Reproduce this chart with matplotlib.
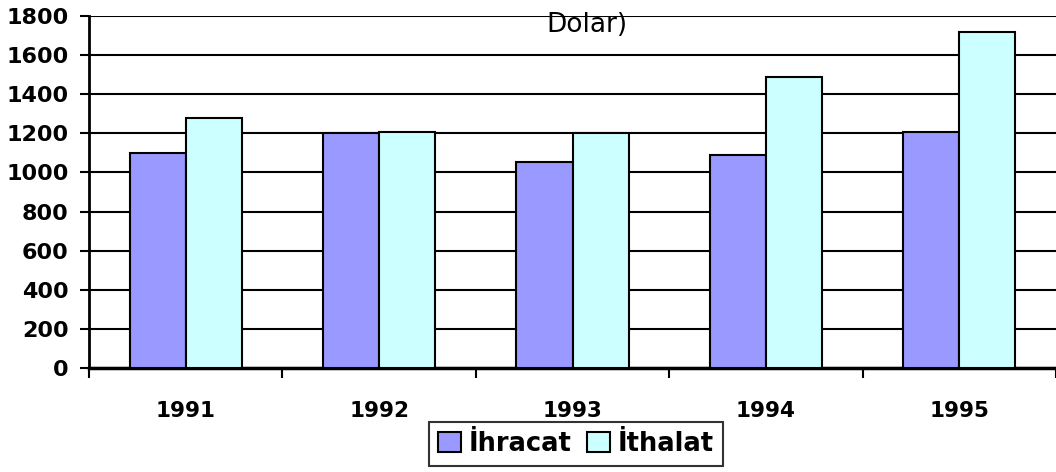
import numpy as np
import matplotlib
matplotlib.use("Agg")
import matplotlib.pyplot as plt
from matplotlib.ticker import FixedLocator

years = ["1991", "1992", "1993", "1994", "1995"]
ihracat = [1097, 1200, 1055, 1089, 1205]
ithalat = [1277, 1208, 1200, 1486, 1720]
yticks = [0, 200, 400, 600, 800, 1000, 1200, 1400, 1600, 1800]

plt.rcParams['font.family'] = ['DejaVu Sans']

fig = plt.figure(figsize=(10.56, 4.72), dpi=100)
ax = fig.add_axes([89/1056, 1-368/472, 1-89/1056, (368-16)/472])

x = np.arange(len(years))
w = 0.29
ax.bar(x - w/2, ihracat, w, color="#9999FF", edgecolor="black", linewidth=1.5,
       label="İhracat", zorder=3)
ax.bar(x + w/2, ithalat, w, color="#CCFFFF", edgecolor="black", linewidth=1.5,
       label="İthalat", zorder=3)

ax.set_xlim(-0.5, len(years) - 0.5)
ax.set_ylim(0, 1800)
ax.set_yticks(yticks)
ax.yaxis.grid(True, color="black", linewidth=1.5, zorder=0)
ax.set_axisbelow(True)

ax.set_xticks(x)
ax.set_xticklabels(years, fontsize=15.5, fontweight="bold")
# ticks sit between the year groups
ax.xaxis.set_minor_locator(FixedLocator(np.arange(-0.5, len(years), 1.0)))
ax.tick_params(axis="x", which="major", length=0, pad=24)
ax.tick_params(axis="x", which="minor", length=7, width=1.5, direction="out")
ax.tick_params(axis="y", length=6.5, width=1.5, pad=8, labelsize=16)
for lab in ax.get_yticklabels():
    lab.set_fontweight("bold")

for s in ["top", "right"]:
    ax.spines[s].set_visible(False)
ax.spines["left"].set_linewidth(2)
ax.spines["bottom"].set_linewidth(2.5)

fig.text(587/1056, 1-25/472, "Dolar)", fontsize=19, ha="center", va="center")

leg = fig.legend(loc="center", bbox_to_anchor=(576/1056, 1-444/472), ncol=2,
                 prop={"size": 18.5, "weight": "bold"}, frameon=True, fancybox=False,
                 edgecolor="black", handlelength=0.9, handleheight=0.8,
                 handletextpad=0.3, columnspacing=0.6, borderpad=0.35)
leg.get_frame().set_linewidth(1.5)

fig.savefig("out.png", dpi=100)
